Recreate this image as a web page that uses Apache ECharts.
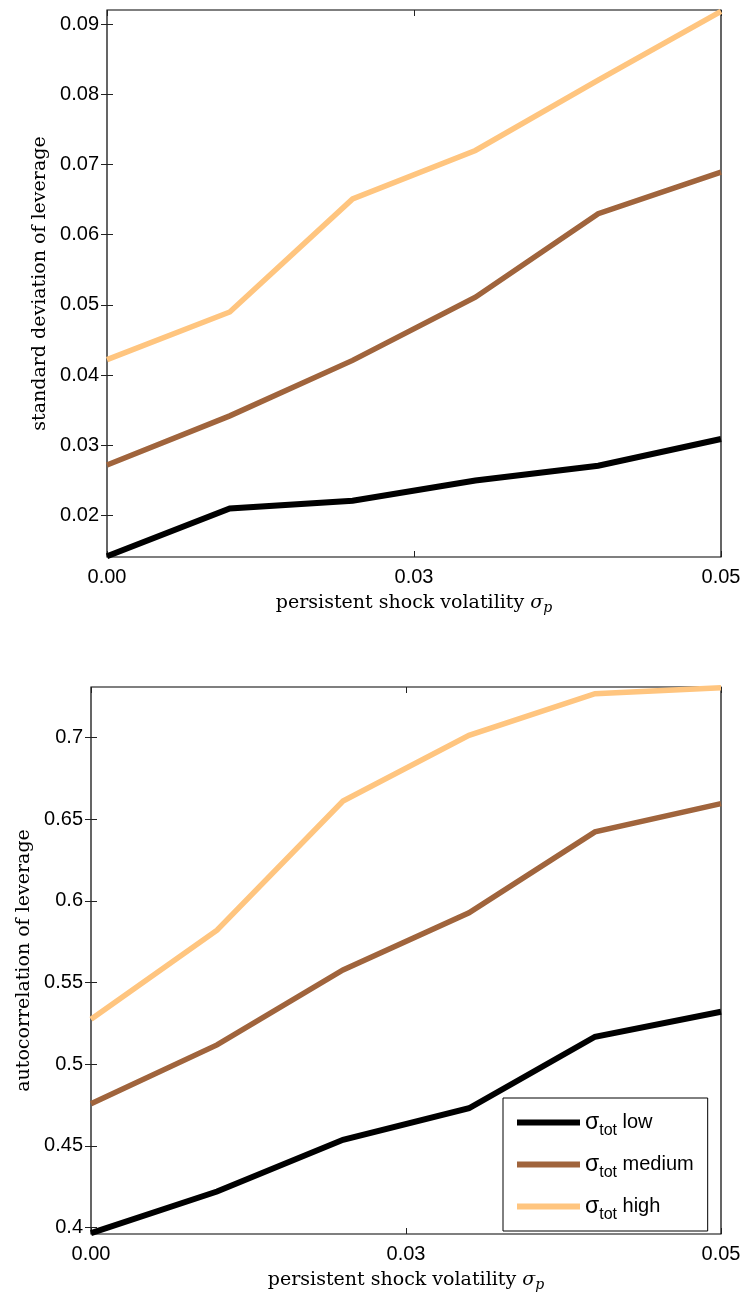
<!DOCTYPE html>
<html><head><meta charset="utf-8">
<script src="https://cdn.jsdelivr.net/npm/echarts@6/dist/echarts.min.js"></script>
<style>html,body{margin:0;padding:0;background:#fff}#c{width:744px;height:1293px}</style>
</head><body><div id="c"></div>
<script>
// ---- data ----
const xValues = [0, 0.01, 0.02, 0.03, 0.04, 0.05];
const stdLow    = [0.0142, 0.0210, 0.0221, 0.0250, 0.0271, 0.0309];
const stdMedium = [0.0272, 0.0342, 0.0421, 0.0511, 0.0630, 0.0689];
const stdHigh   = [0.0422, 0.0490, 0.0651, 0.0720, 0.0820, 0.0918];
const acLow     = [0.3965, 0.4220, 0.4537, 0.4730, 0.5168, 0.5321];
const acMedium  = [0.4757, 0.5118, 0.5577, 0.5927, 0.6423, 0.6596];
const acHigh    = [0.5275, 0.5821, 0.6612, 0.7014, 0.7269, 0.7306];
const xTickLabels = ['0.00', '0.03', '0.05'];
const stdTicks = [0.02, 0.03, 0.04, 0.05, 0.06, 0.07, 0.08, 0.09];
const acTicks = [0.4, 0.45, 0.5, 0.55, 0.6, 0.65, 0.7];
const seriesNames = ['low', 'medium', 'high'];
const colors = ['#000000', '#a0643c', '#ffc57f'];
const widths = [6, 5.5, 5.5];

const chart = echarts.init(document.getElementById('c'), null, {renderer: 'canvas'});
const sans = 'Liberation Sans';
const serif = 'DejaVu Serif';
const tickFont = {fontFamily: sans, fontSize: 20, color: '#000'};
const tickStyle = {show: true, inside: true, length: 6, lineStyle: {color: '#222', width: 1}};

function pairs(ys) { return xValues.map((x, i) => [x, ys[i]]); }

const xName = '{n|persistent shock volatility }{i|σ}{p|p}';
const xNameStyle = {
  fontFamily: serif, fontSize: 19, color: '#000',
  rich: {
    n: {fontFamily: serif, fontSize: 19, color: '#000'},
    i: {fontFamily: serif, fontSize: 19, fontStyle: 'italic', color: '#000'},
    p: {fontFamily: serif, fontSize: 14, fontStyle: 'italic', color: '#000', padding: [9, 0, 0, 0]}
  }
};

function xAxes(gridIndex) {
  return [
    {type: 'value', gridIndex, position: 'bottom', min: 0, max: 0.05, interval: 0.025,
     axisLine: {show: false}, splitLine: {show: false}, axisTick: tickStyle,
     axisLabel: Object.assign({margin: 10, formatter: v => xTickLabels[Math.round(v / 0.025)]}, tickFont),
     name: xName, nameLocation: 'middle', nameGap: 35, nameTextStyle: xNameStyle},
    {type: 'value', gridIndex, position: 'top', min: 0, max: 0.05, interval: 0.025,
     axisLine: {show: false}, splitLine: {show: false}, axisTick: tickStyle, axisLabel: {show: false}}
  ];
}
function yAxes(gridIndex, min, max, ticks, fmt, name) {
  return [
    {type: 'value', gridIndex, position: 'left', min, max,
     axisLine: {show: false}, splitLine: {show: false},
     axisTick: Object.assign({customValues: ticks}, tickStyle),
     axisLabel: Object.assign({customValues: ticks, margin: 8, formatter: fmt}, tickFont),
     name, nameLocation: 'middle', nameGap: 57,
     nameTextStyle: {fontFamily: serif, fontSize: 19, color: '#000'}},
    {type: 'value', gridIndex, position: 'right', min, max,
     axisLine: {show: false}, splitLine: {show: false},
     axisTick: Object.assign({customValues: ticks}, tickStyle), axisLabel: {show: false}}
  ];
}

const series = [];
[[stdLow, stdMedium, stdHigh], [acLow, acMedium, acHigh]].forEach((group, g) => {
  group.forEach((ys, k) => {
    series.push({
      type: 'line', name: seriesNames[k], xAxisIndex: g * 2, yAxisIndex: g * 2,
      data: pairs(ys), showSymbol: false, symbol: 'none', animation: false,
      color: colors[k], itemStyle: {color: colors[k]},
      lineStyle: {color: colors[k], width: widths[k], join: 'miter'}, z: 3 - k
    });
  });
});

chart.setOption({
  backgroundColor: '#fff',
  animation: false,
  grid: [
    {left: 107, top: 10, width: 614, height: 547, show: true, borderColor: '#000', borderWidth: 1.2, backgroundColor: 'transparent'},
    {left: 91, top: 687, width: 630, height: 547, show: true, borderColor: '#000', borderWidth: 1.2, backgroundColor: 'transparent'}
  ],
  xAxis: xAxes(0).concat(xAxes(1)),
  yAxis: yAxes(0, 0.0141, 0.092, stdTicks, v => v.toFixed(2), 'standard deviation of leverage')
    .concat(yAxes(1, 0.396, 0.731, acTicks, v => String(Number(v.toFixed(2))), 'autocorrelation of leverage')),
  legend: {
    data: seriesNames, orient: 'vertical', left: 503, top: 1098,
    icon: 'rect', itemWidth: 63, itemHeight: 6, itemGap: 9,
    padding: [8, 14, 8, 14], borderColor: '#000', borderWidth: 1, backgroundColor: '#fff',
    selectedMode: false,
    formatter: n => '{s|σ}{sub|tot}{t| ' + n + '}',
    textStyle: {
      fontFamily: sans, fontSize: 20, color: '#000',
      rich: {
        s: {fontFamily: sans, fontSize: 23, lineHeight: 22, color: '#000'},
        t: {fontFamily: sans, fontSize: 20, lineHeight: 22, color: '#000'},
        sub: {fontFamily: sans, fontSize: 16, lineHeight: 16, color: '#000', padding: [17, 0, 0, 0]}
      }
    }
  },
  series
});
</script></body></html>
